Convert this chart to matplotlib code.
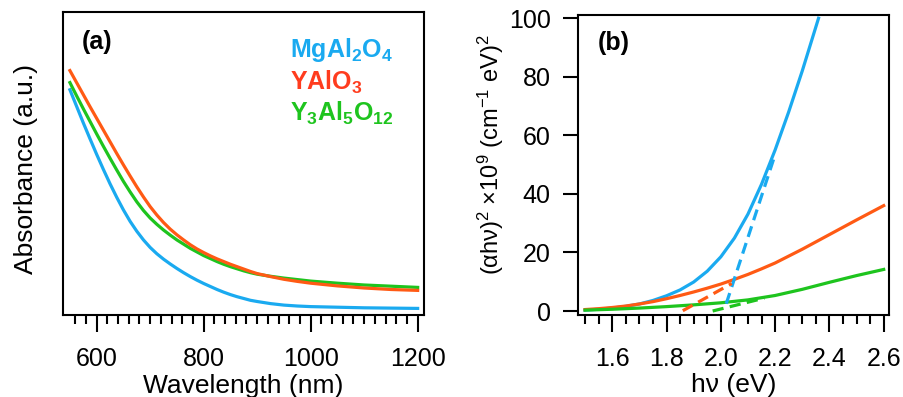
import matplotlib
matplotlib.use('Agg')
import matplotlib.pyplot as plt  # 畫圖
from matplotlib.ticker import MultipleLocator, FixedLocator

# 字型設定 (Arial 相容字型)
plt.rcParams['font.family'] = ['Liberation Sans', 'DejaVu Sans']
plt.rcParams['mathtext.fontset'] = 'custom'
plt.rcParams['mathtext.rm'] = 'Liberation Sans'
plt.rcParams['mathtext.it'] = 'Liberation Sans:italic'
plt.rcParams['mathtext.bf'] = 'Liberation Sans:bold'

# ---- (a) 吸收光譜資料 ----
wavelength = [550, 562.5, 575, 587.5, 600, 612.5, 625, 637.5, 650, 662.5, 675, 687.5,
              700, 712.5, 725, 737.5, 750, 762.5, 775, 787.5, 800, 812.5, 825, 837.5,
              850, 862.5, 875, 887.5, 900, 925, 950, 975, 1000, 1050, 1100, 1150, 1200]
abs_mgal2o4 = [7.50, 6.95, 6.40, 5.87, 5.35, 4.85, 4.37, 3.92, 3.50, 3.12, 2.79, 2.50,
               2.25, 2.04, 1.86, 1.70, 1.55, 1.41, 1.28, 1.16, 1.05, 0.95, 0.85, 0.76,
               0.68, 0.61, 0.55, 0.49, 0.45, 0.38, 0.33, 0.30, 0.28, 0.26, 0.24, 0.23, 0.22]
abs_yalo3 = [8.14, 7.74, 7.34, 6.94, 6.55, 6.16, 5.77, 5.38, 5.00, 4.63, 4.27, 3.93,
             3.61, 3.33, 3.08, 2.86, 2.67, 2.50, 2.34, 2.20, 2.08, 1.97, 1.87, 1.78,
             1.69, 1.61, 1.53, 1.45, 1.38, 1.28, 1.19, 1.12, 1.06, 0.97, 0.90, 0.85, 0.82]
abs_yag = [7.74, 7.30, 6.87, 6.45, 6.03, 5.62, 5.22, 4.83, 4.45, 4.10, 3.77, 3.48,
           3.23, 3.02, 2.83, 2.66, 2.50, 2.36, 2.22, 2.10, 1.98, 1.88, 1.78, 1.69,
           1.61, 1.54, 1.47, 1.41, 1.36, 1.29, 1.23, 1.18, 1.13, 1.06, 1.00, 0.96, 0.92]

# ---- (b) Tauc plot 資料 ----
hv_mgal2o4 = [1.50, 1.55, 1.60, 1.65, 1.70, 1.75, 1.80, 1.85, 1.90, 1.95, 2.00,
              2.05, 2.10, 2.15, 2.20, 2.25, 2.30, 2.36]
tauc_mgal2o4 = [0.3, 0.6, 1.0, 1.6, 2.4, 3.6, 5.2, 7.2, 9.9, 13.6, 18.5,
                24.9, 33.1, 43.3, 55.0, 68.0, 82.0, 100.0]
hv_yalo3 = [1.50, 1.55, 1.60, 1.65, 1.70, 1.75, 1.80, 1.85, 1.90, 1.95, 2.00,
            2.05, 2.10, 2.15, 2.20, 2.30, 2.40, 2.50, 2.60]
tauc_yalo3 = [0.5, 0.8, 1.2, 1.7, 2.4, 3.2, 4.2, 5.3, 6.5, 7.8, 9.2,
              10.8, 12.5, 14.4, 16.4, 21.1, 26.1, 31.1, 36.0]
hv_yag = [1.50, 1.60, 1.70, 1.80, 1.90, 2.00, 2.10, 2.20, 2.30, 2.40, 2.50, 2.60]
tauc_yag = [0.3, 0.6, 1.0, 1.5, 2.1, 2.8, 3.8, 5.3, 7.4, 9.8, 12.1, 14.2]

# 切線 (虛線) 的兩端點
fit_mgal2o4_x = [2.02, 2.195]
fit_mgal2o4_y = [2.5, 52.0]
fit_yalo3_x = [1.86, 2.04]
fit_yalo3_y = [0.1, 9.4]
fit_yag_x = [1.97, 2.16]
fit_yag_y = [0.0, 4.4]

names = [r'$\mathbf{MgAl_2O_4}$', r'$\mathbf{YAlO_3}$', r'$\mathbf{Y_3Al_5O_{12}}$']
c_blue = '#1aaaf0'
c_orange = '#ff5a14'
c_red_text = '#ff3c1e'
c_green = '#1ec41e'

fig = plt.figure(figsize=(9.04, 3.97), dpi=100)
ax1 = fig.add_axes([0.070, 0.2065, 0.399, 0.764])
ax2 = fig.add_axes([0.6397, 0.2065, 0.3437, 0.7557])

# ---- 畫 (a) ----
ax1.plot(wavelength, abs_mgal2o4, color=c_blue, lw=2.3)
ax1.plot(wavelength, abs_yag, color=c_green, lw=2.3)
ax1.plot(wavelength, abs_yalo3, color=c_orange, lw=2.3)
ax1.set_xlim(537.6, 1211.8)
ax1.set_ylim(0, 10.1)
ax1.xaxis.set_major_locator(FixedLocator([600, 800, 1000, 1200]))
ax1.xaxis.set_minor_locator(FixedLocator(list(range(560, 1201, 20))))
ax1.tick_params(axis='y', left=False, labelleft=False)
ax1.set_xlabel('Wavelength (nm)', fontsize=19, va='baseline')
ax1.xaxis.set_label_coords(0.5, -0.257)
ax1.set_ylabel('Absorbance (a.u.)', fontsize=19, va='baseline')
ax1.yaxis.set_label_coords(-0.085, 0.481)
ax1.text(0.051, 0.901, '(a)', transform=ax1.transAxes, fontsize=18,
         fontweight='bold', va='center')
for name, col, yy in zip(names, [c_blue, c_red_text, c_green], [0.852, 0.742, 0.641]):
    ax1.text(0.628, yy, name, transform=ax1.transAxes, fontsize=18,
             color=col, va='baseline')

# ---- 畫 (b) ----
ax2.plot(hv_mgal2o4, tauc_mgal2o4, color=c_blue, lw=2.3)
ax2.plot(hv_yalo3, tauc_yalo3, color=c_orange, lw=2.3)
ax2.plot(hv_yag, tauc_yag, color=c_green, lw=2.3)
ax2.plot(fit_mgal2o4_x, fit_mgal2o4_y, color=c_blue, lw=2.3, dashes=(3.5, 2))
ax2.plot(fit_yalo3_x, fit_yalo3_y, color=c_orange, lw=2.3, dashes=(3.5, 2))
ax2.plot(fit_yag_x, fit_yag_y, color=c_green, lw=2.3, dashes=(3.5, 2))
ax2.set_xlim(1.475, 2.6195)
ax2.set_ylim(-1.37, 101.1)
ax2.xaxis.set_major_locator(MultipleLocator(0.2))
ax2.xaxis.set_minor_locator(MultipleLocator(0.05))
ax2.yaxis.set_major_locator(MultipleLocator(20))
ax2.xaxis.set_major_formatter(plt.FuncFormatter(lambda v, p: f'{v:.1f}'))
ax2.set_xlabel('hν (eV)', fontsize=19, va='baseline')
ax2.xaxis.set_label_coords(0.5, -0.257)
ax2.set_ylabel('(αhν)$^2$ ×10$^9$ (cm$^{-1}$ eV)$^2$', fontsize=17, va='baseline')
ax2.yaxis.set_label_coords(-0.255, 0.533)
ax2.text(0.064, 0.908, '(b)', transform=ax2.transAxes, fontsize=18,
         fontweight='bold', va='center')

# 共同的邊框與刻度樣式
for ax in (ax1, ax2):
    for sp in ax.spines.values():
        sp.set_linewidth(1.5)
    ax.tick_params(axis='x', which='major', direction='out', length=12,
                   width=1.5, pad=11, labelsize=18)
    ax.tick_params(axis='x', which='minor', direction='out', length=6.5, width=1.5)
ax2.tick_params(axis='y', which='major', direction='out', length=11,
                width=1.5, pad=9, labelsize=18)

fig.savefig('out.png', dpi=100)
